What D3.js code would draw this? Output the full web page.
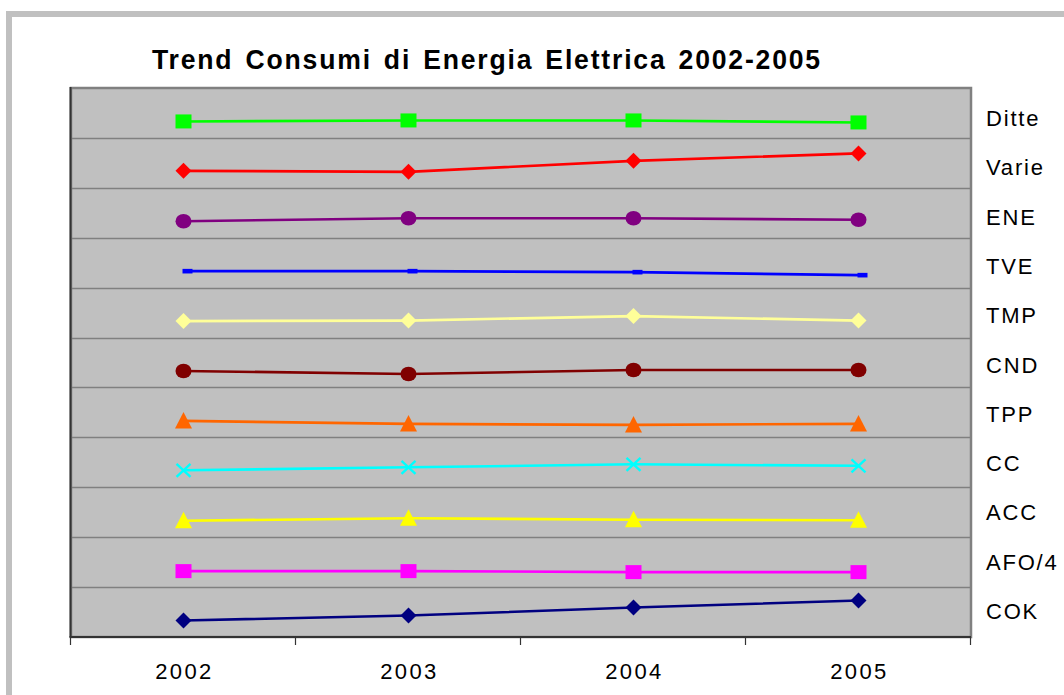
<!DOCTYPE html>
<html>
<head>
<meta charset="utf-8">
<script src="https://cdn.jsdelivr.net/npm/d3@7"></script>
<style>
  body { margin: 0; background: #ffffff; }
  svg { display: block; }
  text { font-family: "Liberation Sans", Arial, sans-serif; fill: #000; }
</style>
</head>
<body>
<svg id="chart" width="1064" height="695"></svg>
<script>
// Years on the category axis
const years = ["2002", "2003", "2004", "2005"];

// Series names, listed top to bottom as they are stacked in the plot
const seriesNames = ["Ditte", "Varie", "ENE", "TVE", "TMP", "CND", "TPP", "CC", "ACC", "AFO/4", "COK"];

// Index values per year (each series sits in its own band of the scale)
const ditte = [10.33, 10.35, 10.35, 10.31];
const varie = [9.34, 9.32, 9.54, 9.69];
const ene   = [8.33, 8.39, 8.39, 8.36];
const tve   = [7.33, 7.33, 7.31, 7.25];
const tmp   = [6.33, 6.34, 6.43, 6.34];
const cnd   = [5.33, 5.27, 5.35, 5.35];
const tpp   = [4.33, 4.27, 4.25, 4.27];
const cc    = [3.34, 3.40, 3.46, 3.43];
const acc   = [2.33, 2.38, 2.35, 2.34];
const afo4  = [1.32, 1.32, 1.30, 1.30];
const cok   = [0.33, 0.43, 0.59, 0.73];

const valueLimits = [0, 11];
const gridValues = [1, 2, 3, 4, 5, 6, 7, 8, 9, 10];

const seriesValues = [ditte, varie, ene, tve, tmp, cnd, tpp, cc, acc, afo4, cok];

// Colour and marker of each series
const styles = {
  "Ditte": { color: "#00ff00", marker: "square" },
  "Varie": { color: "#ff0000", marker: "diamond" },
  "ENE":   { color: "#800080", marker: "circle" },
  "TVE":   { color: "#0000ff", marker: "dash" },
  "TMP":   { color: "#ffff99", marker: "diamond" },
  "CND":   { color: "#800000", marker: "circle" },
  "TPP":   { color: "#ff6600", marker: "triangle" },
  "CC":    { color: "#00ffff", marker: "cross" },
  "ACC":   { color: "#ffff00", marker: "triangle" },
  "AFO/4": { color: "#ff00ff", marker: "square" },
  "COK":   { color: "#000080", marker: "diamond" }
};

const svg = d3.select("#chart");

// Outer chart frame
svg.append("rect")
  .attr("x", 9).attr("y", 14)
  .attr("width", 1080).attr("height", 700)
  .attr("fill", "#ffffff")
  .attr("stroke", "#c0c0c0").attr("stroke-width", 6);

const plot = { left: 71, right: 971, top: 88, bottom: 637 };

const x = d3.scaleBand().domain(years).range([plot.left, plot.right]);
const y = d3.scaleLinear().domain(valueLimits).range([plot.bottom, plot.top]);

// Title (slightly condensed horizontally)
svg.append("text")
  .attr("transform", "translate(152,69) scale(0.95,1)")
  .attr("x", 0).attr("y", 0)
  .attr("font-size", 28).attr("font-weight", "bold")
  .attr("letter-spacing", "1.9px").attr("word-spacing", "3px")
  .text("Trend Consumi di Energia Elettrica 2002-2005");

// Plot area
svg.append("rect")
  .attr("x", plot.left).attr("y", plot.top)
  .attr("width", plot.right - plot.left).attr("height", plot.bottom - plot.top)
  .attr("fill", "#c0c0c0")
  .attr("stroke", "#808080").attr("stroke-width", 2.5);

// Horizontal gridlines
svg.append("g")
  .selectAll("line")
  .data(gridValues)
  .join("line")
  .attr("x1", plot.left).attr("x2", plot.right)
  .attr("y1", d => Math.round(y(d)) + 0.5).attr("y2", d => Math.round(y(d)) + 0.5)
  .attr("stroke", "#808080").attr("stroke-width", 1.5);

// Value axis line (no labels)
svg.append("line")
  .attr("x1", plot.left - 0.5).attr("x2", plot.left - 0.5)
  .attr("y1", plot.top - 1).attr("y2", plot.bottom)
  .attr("stroke", "#333333").attr("stroke-width", 2);

// Category axis with ticks between the years
const xAxis = svg.append("g")
  .attr("transform", `translate(0,${plot.bottom})`)
  .call(d3.axisBottom(x).tickSize(0).tickFormat(""));
xAxis.select(".domain").remove();
xAxis.append("line")
  .attr("x1", plot.left - 1.5).attr("x2", plot.right)
  .attr("y1", 0).attr("y2", 0)
  .attr("stroke", "#333333").attr("stroke-width", 2);
const boundaries = years.map(d => x(d)).concat([x(years[years.length - 1]) + x.bandwidth()]);
xAxis.selectAll("line.bound")
  .data(boundaries)
  .join("line")
  .attr("class", "bound")
  .attr("x1", d => Math.round(d) - 0.5).attr("x2", d => Math.round(d) - 0.5)
  .attr("y1", 0).attr("y2", 8)
  .attr("stroke", "#333333").attr("stroke-width", 1.2);

svg.append("g")
  .selectAll("text")
  .data(years)
  .join("text")
  .attr("x", d => x(d) + x.bandwidth() / 2 + 1)
  .attr("y", 679)
  .attr("text-anchor", "middle")
  .attr("font-size", 22)
  .attr("letter-spacing", "2.4px")
  .text(d => d);

// Marker shapes
function drawMarker(g, kind, cx, cy, color) {
  if (kind === "square") {
    g.append("rect").attr("x", cx - 8).attr("y", cy - 7).attr("width", 16).attr("height", 14).attr("fill", color);
  } else if (kind === "diamond") {
    g.append("path").attr("d", `M${cx},${cy - 8}L${cx + 8},${cy}L${cx},${cy + 8}L${cx - 8},${cy}Z`).attr("fill", color);
  } else if (kind === "circle") {
    g.append("ellipse").attr("cx", cx).attr("cy", cy).attr("rx", 8).attr("ry", 7.3).attr("fill", color);
  } else if (kind === "dash") {
    g.append("rect").attr("x", cx - 1).attr("y", cy - 2.3).attr("width", 10).attr("height", 4.6).attr("fill", color);
  } else if (kind === "triangle") {
    g.append("path").attr("d", `M${cx},${cy - 9}L${cx + 8.5},${cy + 7.5}L${cx - 8.5},${cy + 7.5}Z`).attr("fill", color);
  } else if (kind === "cross") {
    g.append("path").attr("d", `M${cx - 7},${cy - 6.5}L${cx + 7},${cy + 6.5}M${cx + 7},${cy - 6.5}L${cx - 7},${cy + 6.5}`)
      .attr("stroke", color).attr("stroke-width", 2.4).attr("fill", "none");
  }
}

const line = d3.line()
  .x((d, i) => x(years[i]) + x.bandwidth() / 2)
  .y(d => y(d));

const seriesG = svg.append("g");
seriesNames.forEach((name, k) => {
  const vals = seriesValues[k];
  const st = styles[name];
  const g = seriesG.append("g");
  g.append("path")
    .attr("d", line(vals))
    .attr("fill", "none")
    .attr("stroke", st.color)
    .attr("stroke-width", 2.6);
  vals.forEach((v, i) => {
    drawMarker(g, st.marker, x(years[i]) + x.bandwidth() / 2, y(v), st.color);
  });
});

// Series labels on the right of the plot
const labelY = d3.scalePoint().domain(seriesNames).range([126, 619]);
svg.append("g")
  .selectAll("text")
  .data(seriesNames)
  .join("text")
  .attr("x", 986)
  .attr("y", d => labelY(d))
  .attr("font-size", 22)
  .attr("letter-spacing", "1.8px")
  .text(d => d);
</script>
</body>
</html>
